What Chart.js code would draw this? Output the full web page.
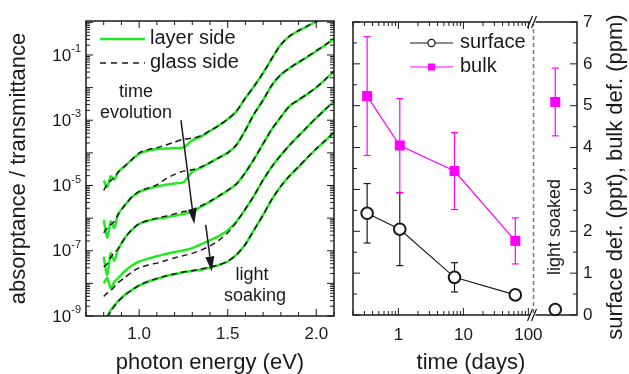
<!DOCTYPE html>
<html>
<head>
<meta charset="utf-8">
<script src="https://cdn.jsdelivr.net/npm/chart.js@4/dist/chart.umd.min.js"></script>
<style>
  body { margin: 0; background: #fff; }
  #wrap { position: relative; width: 629px; height: 374px; }
  canvas { position: absolute; top: 0; }
  #absChart { left: 0; }
  #defChart { left: 340px; }
</style>
</head>
<body>
<div id="wrap">
  <canvas id="absChart" width="340" height="374"></canvas>
  <canvas id="defChart" width="289" height="374"></canvas>
</div>
<script>
// photon energy grid (eV) shared by all spectra
const energy = [0.80, 0.82, 0.84, 0.86, 0.88, 0.92, 0.96, 1.00, 1.05, 1.10, 1.15, 1.20, 1.25, 1.30, 1.35,
  1.40, 1.45, 1.50, 1.55, 1.60, 1.65, 1.70, 1.75, 1.80, 1.85, 1.90, 1.95, 2.00, 2.05, 2.10];

// spectra, given as decades (log10 of absorptance / transmittance)
const layer1 = [-4.85, -5.05, -4.72, -4.82, -4.6, -4.4, -4.2, -4.03, -3.93, -3.88, -3.87, -3.85, -3.83, -3.62, -3.5,
  -3.33, -3.16, -2.97, -2.72, -2.32, -1.95, -1.55, -1.1, -0.68, -0.42, -0.26, -0.12, 0.02, 0.15, null];
const glass1 = [-5.15, -4.95, -4.85, -4.75, -4.6, -4.4, -4.2, -4.0, -3.9, -3.84, -3.76, -3.67, -3.58, -3.55, -3.47,
  -3.32, -3.16, -2.97, -2.72, -2.32, -1.95, -1.55, -1.1, -0.68, -0.42, -0.25, -0.11, 0.03, 0.16, null];
const layer2 = [-6.06, -6.6, -6.1, -6.3, -5.9, -5.6, -5.35, -5.2, -5.1, -5.03, -4.98, -4.94, -4.9, -4.58, -4.45,
  -4.3, -4.15, -4.0, -3.75, -3.3, -2.8, -2.38, -1.92, -1.6, -1.4, -1.23, -1.06, -0.88, -0.7, -0.5];
const glass2 = [-6.45, -6.3, -6.2, -6.1, -5.9, -5.6, -5.35, -5.18, -5.08, -4.98, -4.8, -4.66, -4.56, -4.52, -4.43,
  -4.3, -4.15, -4.0, -3.75, -3.3, -2.8, -2.38, -1.92, -1.6, -1.4, -1.22, -1.05, -0.87, -0.69, -0.49];
const layer3 = [-7.18, -7.75, -7.08, -7.3, -6.98, -6.6, -6.35, -6.18, -6.08, -6.02, -5.98, -5.93, -5.87, -5.8, -5.65,
  -5.5, -5.33, -5.15, -4.95, -4.6, -4.18, -3.72, -3.27, -2.9, -2.56, -2.38, -2.2, -2.0, -1.76, -1.5];
const glass3 = [-7.5, -7.4, -7.2, -7.05, -6.95, -6.6, -6.35, -6.17, -6.07, -6.0, -5.94, -5.87, -5.8, -5.74, -5.62,
  -5.48, -5.32, -5.15, -4.95, -4.6, -4.18, -3.72, -3.27, -2.9, -2.56, -2.37, -2.19, -1.99, -1.75, -1.49];
const layer4 = [-8.0, -7.84, -8.15, -7.95, -7.85, -7.62, -7.45, -7.33, -7.24, -7.17, -7.1, -7.04, -6.99, -6.92, -6.8,
  -6.68, -6.55, -6.38, -6.1, -5.72, -5.3, -4.83, -4.42, -4.07, -3.76, -3.48, -3.2, -2.93, -2.67, -2.42];
const glass4 = [-8.4, -8.3, -8.22, -8.1, -7.98, -7.82, -7.65, -7.52, -7.44, -7.38, -7.3, -7.22, -7.15, -7.08, -6.98,
  -6.85, -6.68, -6.45, -6.12, -5.72, -5.3, -4.83, -4.42, -4.07, -3.76, -3.48, -3.2, -2.93, -2.67, -2.42];
const layer5 = [null, -9.0, -8.82, -8.68, -8.55, -8.35, -8.2, -8.07, -7.95, -7.86, -7.78, -7.72, -7.66, -7.62, -7.58,
  -7.52, -7.44, -7.33, -7.12, -6.8, -6.35, -5.9, -5.42, -5.02, -4.7, -4.43, -4.15, -3.88, -3.63, -3.38];
const glass5 = [null, -9.05, -8.85, -8.7, -8.56, -8.36, -8.2, -8.06, -7.94, -7.85, -7.77, -7.71, -7.65, -7.61, -7.56,
  -7.5, -7.43, -7.32, -7.12, -6.8, -6.35, -5.9, -5.42, -5.02, -4.7, -4.42, -4.14, -3.87, -3.62, -3.37];

const layerSide = [layer1, layer2, layer3, layer4, layer5];
const glassSide = [glass1, glass2, glass3, glass4, glass5];
const energyTicks = [1.0, 1.5, 2.0];
const decadeLabels = [-9, -7, -5, -3, -1];

// defect densities vs time
const days = [0.33, 1.05, 7.3, 63];
const surfaceDef = [2.43, 2.05, 0.9, 0.48];
const surfaceErr = [0.71, 0.87, 0.35, 0.08];
const bulkDef = [5.23, 4.05, 3.44, 1.77];
const bulkErr = [1.42, 1.12, 0.92, 0.55];
const soakedLabel = ["light soaked"];
const soakedSurface = [0.13];
const soakedSurfaceErr = [0];
const soakedBulk = [5.09];
const soakedBulkErr = [0.81];
const timeTicks = [1, 10, 100];

const INK = "#1a1a1a";
const GREEN = "#22ea22";
const MAGENTA = "#ff00ff";
const FONT = "'Liberation Sans', Arial, sans-serif";

Chart.defaults.font.family = FONT;
Chart.defaults.color = INK;

function curvePoints(exps) {
  return energy.map((e, k) => ({ x: e, y: exps[k] === null ? null : Math.pow(10, exps[k]) }));
}

function tickLine(ctx, x1, y1, x2, y2) {
  ctx.beginPath();
  ctx.moveTo(x1, y1);
  ctx.lineTo(x2, y2);
  ctx.stroke();
}

function drawArrow(ctx, x1, y1, x2, y2) {
  const ang = Math.atan2(y2 - y1, x2 - x1);
  const head = 15;
  const half = 4.5;
  const bx = x2 - head * Math.cos(ang);
  const by = y2 - head * Math.sin(ang);
  tickLine(ctx, x1, y1, bx, by);
  ctx.beginPath();
  ctx.moveTo(x2, y2);
  ctx.lineTo(bx + half * Math.sin(ang), by - half * Math.cos(ang));
  ctx.lineTo(bx - half * Math.sin(ang), by + half * Math.cos(ang));
  ctx.closePath();
  ctx.fill();
}

// frame, inward ticks, superscript labels, legend and notes for the spectra
const absDecor = {
  id: "absDecor",
  afterDraw(chart) {
    const { ctx, chartArea: a, scales: { x, y } } = chart;
    ctx.save();
    ctx.strokeStyle = INK;
    ctx.fillStyle = INK;
    ctx.lineWidth = 1.5;
    ctx.strokeRect(a.left, a.top, a.width, a.height);

    ctx.lineWidth = 1;
    for (let k = 7; k <= 21; k++) {
      const px = x.getPixelForValue(k / 10);
      const len = k % 5 === 0 ? 7 : 4;
      tickLine(ctx, px, a.bottom, px, a.bottom - len);
      tickLine(ctx, px, a.top, px, a.top + len);
    }
    for (let d = -9; d <= 0; d++) {
      for (let m = 1; m <= 9; m++) {
        const v = m * Math.pow(10, d);
        if (v > y.max) break;
        const py = y.getPixelForValue(v);
        const len = m === 1 ? 7 : 4;
        tickLine(ctx, a.left, py, a.left + len, py);
        tickLine(ctx, a.right, py, a.right - len, py);
      }
    }

    // 10^n tick labels
    decadeLabels.forEach(d => {
      const py = y.getPixelForValue(Math.pow(10, d));
      ctx.font = "11px " + FONT;
      const exp = String(d);
      const ew = ctx.measureText(exp).width;
      const x0 = a.left - 5 - ew;
      ctx.textBaseline = "middle";
      ctx.textAlign = "left";
      ctx.fillText(exp, x0, py - 6);
      ctx.font = "17px " + FONT;
      ctx.textAlign = "right";
      ctx.fillText("10", x0, py + 1);
    });

    // legend
    ctx.lineWidth = 2.5;
    ctx.strokeStyle = GREEN;
    tickLine(ctx, 100, 39, 145, 39);
    ctx.lineWidth = 1.5;
    ctx.strokeStyle = INK;
    ctx.setLineDash([6, 5]);
    tickLine(ctx, 100, 63, 145, 63);
    ctx.setLineDash([]);
    ctx.font = "20px " + FONT;
    ctx.textAlign = "left";
    ctx.fillText("layer side", 150, 38);
    ctx.fillText("glass side", 150, 62);

    // notes
    ctx.font = "18px " + FONT;
    ctx.textAlign = "center";
    ctx.fillText("time", 136, 92);
    ctx.fillText("evolution", 136, 113);
    ctx.fillText("light", 252, 275);
    ctx.fillText("soaking", 255, 296);

    ctx.lineWidth = 1.5;
    drawArrow(ctx, x.getPixelForValue(1.236), y.getPixelForValue(1.0e-3),
      x.getPixelForValue(1.311), y.getPixelForValue(6.6e-7));
    drawArrow(ctx, x.getPixelForValue(1.376), y.getPixelForValue(6.2e-7),
      x.getPixelForValue(1.41), y.getPixelForValue(2.3e-8));
    ctx.restore();
  }
};

const absDatasets = [];
glassSide.forEach((curve, i) => {
  absDatasets.push({
    label: "glass side " + (i + 1),
    data: curvePoints(curve),
    borderColor: INK,
    borderWidth: 1.5,
    borderDash: [6, 4],
    tension: 0.25,
    order: 0
  });
});
layerSide.forEach((curve, i) => {
  absDatasets.push({
    label: "layer side " + (i + 1),
    data: curvePoints(curve),
    borderColor: GREEN,
    borderWidth: 2.5,
    tension: 0.25,
    order: 1
  });
});

new Chart(document.getElementById("absChart"), {
  type: "line",
  data: { datasets: absDatasets },
  options: {
    responsive: false,
    animation: false,
    events: [],
    layout: { padding: { top: 21, right: 6, left: 0, bottom: 0 } },
    elements: { point: { radius: 0 } },
    plugins: { legend: { display: false }, tooltip: { enabled: false } },
    scales: {
      x: {
        type: "linear",
        min: 0.7,
        max: 2.1,
        afterBuildTicks: s => { s.ticks = energyTicks.map(v => ({ value: v })); },
        ticks: { font: { size: 17 }, padding: 8, maxRotation: 0, autoSkip: false, callback: v => v.toFixed(1) },
        grid: { display: false, drawTicks: false },
        border: { display: false },
        title: { display: true, text: "photon energy (eV)", font: { size: 22, lineHeight: 1 }, padding: 0 },
        afterFit: s => { s.height = 58; }
      },
      y: {
        type: "logarithmic",
        min: 1e-9,
        max: 1.1,
        ticks: { display: false },
        grid: { display: false, drawTicks: false },
        border: { display: false },
        title: { display: true, text: "absorptance / transmittance", font: { size: 22, lineHeight: 1 }, padding: { top: 8, bottom: 0 } },
        afterFit: s => { s.width = 86; }
      }
    }
  },
  plugins: [absDecor]
});

// error bars under the markers, plus frame, break, legend and titles
const errorBars = {
  id: "errorBars",
  beforeDatasetsDraw(chart) {
    const { ctx, scales: { y } } = chart;
    const errs = [surfaceErr, bulkErr, soakedSurfaceErr, soakedBulkErr];
    const vals = [surfaceDef, bulkDef, soakedSurface, soakedBulk];
    const colors = [INK, MAGENTA, INK, MAGENTA];
    ctx.save();
    ctx.lineWidth = 1.2;
    errs.forEach((err, i) => {
      const meta = chart.getDatasetMeta(i);
      ctx.strokeStyle = colors[i];
      meta.data.forEach((pt, j) => {
        if (!err[j]) return;
        const top = y.getPixelForValue(vals[i][j] + err[j]);
        const bot = y.getPixelForValue(vals[i][j] - err[j]);
        tickLine(ctx, pt.x, top, pt.x, bot);
        tickLine(ctx, pt.x - 3.5, top, pt.x + 3.5, top);
        tickLine(ctx, pt.x - 3.5, bot, pt.x + 3.5, bot);
      });
    });
    ctx.restore();
  },
  afterDraw(chart) {
    const { ctx, chartArea: a, scales: { x, y } } = chart;
    ctx.save();
    ctx.strokeStyle = INK;
    ctx.fillStyle = INK;
    ctx.lineWidth = 1.5;
    ctx.strokeRect(a.left, a.top, a.width, a.height);

    // time axis ticks, top and bottom
    ctx.lineWidth = 1;
    [0.1, 1, 10, 100].forEach(dec => {
      for (let m = 1; m <= 9; m++) {
        const v = m * dec;
        if (v < x.min - 1e-9 || v > x.max) continue;
        const px = x.getPixelForValue(v);
        const len = m === 1 ? 7 : 4;
        tickLine(ctx, px, a.bottom, px, a.bottom - len);
        tickLine(ctx, px, a.top, px, a.top + len);
      }
    });
    for (let v = 0; v <= 7; v += 0.5) {
      const py = y.getPixelForValue(v);
      const len = v % 1 === 0 ? 7 : 4;
      tickLine(ctx, a.left, py, a.left + len, py);
      tickLine(ctx, a.right, py, a.right - len, py);
    }

    // axis break
    const bx = x.right;
    ctx.strokeStyle = "#777";
    ctx.lineWidth = 1.5;
    ctx.setLineDash([4, 3]);
    tickLine(ctx, bx, a.top, bx, a.bottom);
    ctx.setLineDash([]);
    [a.top, a.bottom].forEach(py => {
      ctx.fillStyle = "#fff";
      ctx.fillRect(bx - 3, py - 2, 5, 4);
      ctx.strokeStyle = INK;
      ctx.lineWidth = 1.2;
      tickLine(ctx, bx - 6, py + 6, bx - 1, py - 6);
      tickLine(ctx, bx - 2, py + 6, bx + 3, py - 6);
    });

    // legend
    ctx.fillStyle = INK;
    ctx.strokeStyle = INK;
    ctx.lineWidth = 1.2;
    tickLine(ctx, 70, 43, 113, 43);
    ctx.beginPath();
    ctx.arc(91.5, 43, 3.6, 0, Math.PI * 2);
    ctx.fillStyle = "#fff";
    ctx.fill();
    ctx.stroke();
    ctx.strokeStyle = MAGENTA;
    tickLine(ctx, 70, 67, 113, 67);
    ctx.fillStyle = MAGENTA;
    ctx.fillRect(88, 63.5, 7, 7);
    ctx.fillStyle = INK;
    ctx.font = "20px " + FONT;
    ctx.textAlign = "left";
    ctx.textBaseline = "middle";
    ctx.fillText("surface", 120, 42);
    ctx.fillText("bulk", 120, 66);

    // rotated texts
    ctx.save();
    ctx.translate(215, 227);
    ctx.rotate(-Math.PI / 2);
    ctx.font = "18px " + FONT;
    ctx.textAlign = "center";
    ctx.fillText("light soaked", 0, 0);
    ctx.restore();

    ctx.save();
    ctx.translate(276, 177);
    ctx.rotate(-Math.PI / 2);
    ctx.font = "22px " + FONT;
    ctx.textAlign = "center";
    ctx.fillText("surface def. (ppt), bulk def. (ppm)", 0, 0);
    ctx.restore();

    ctx.font = "22px " + FONT;
    ctx.textAlign = "center";
    ctx.fillText("time (days)", 131, 363);
    ctx.restore();
  }
};

new Chart(document.getElementById("defChart"), {
  type: "line",
  data: {
    datasets: [
      {
        label: "surface",
        data: days.map((t, i) => ({ x: t, y: surfaceDef[i] })),
        borderColor: INK,
        borderWidth: 1.2,
        pointStyle: "circle",
        pointRadius: 5.8,
        pointBorderWidth: 2,
        pointBorderColor: INK,
        pointBackgroundColor: "#fff",
        xAxisID: "x"
      },
      {
        label: "bulk",
        data: days.map((t, i) => ({ x: t, y: bulkDef[i] })),
        borderColor: MAGENTA,
        borderWidth: 1.2,
        pointStyle: "rect",
        pointRadius: 7.1,
        pointBorderWidth: 0,
        pointBackgroundColor: MAGENTA,
        xAxisID: "x"
      },
      {
        label: "surface (light soaked)",
        data: soakedLabel.map((c, i) => ({ x: c, y: soakedSurface[i] })),
        showLine: false,
        pointStyle: "circle",
        pointRadius: 5.8,
        pointBorderWidth: 2,
        pointBorderColor: INK,
        pointBackgroundColor: "#fff",
        xAxisID: "xls"
      },
      {
        label: "bulk (light soaked)",
        data: soakedLabel.map((c, i) => ({ x: c, y: soakedBulk[i] })),
        showLine: false,
        pointStyle: "rect",
        pointRadius: 7.1,
        pointBorderWidth: 0,
        pointBackgroundColor: MAGENTA,
        xAxisID: "xls"
      }
    ]
  },
  options: {
    responsive: false,
    animation: false,
    events: [],
    clip: false,
    layout: { padding: { top: 22, left: 13, right: 0, bottom: 0 } },
    plugins: { legend: { display: false }, tooltip: { enabled: false } },
    scales: {
      x: {
        type: "logarithmic",
        position: "bottom",
        stack: "time",
        stackWeight: 180.5,
        min: 0.2,
        max: 120,
        afterBuildTicks: s => { s.ticks = timeTicks.map(v => ({ value: v })); },
        ticks: { font: { size: 17 }, padding: 10, maxRotation: 0, autoSkip: false, callback: v => String(v) },
        grid: { display: false, drawTicks: false },
        border: { display: false },
        afterFit: s => { s.height = 59; }
      },
      xls: {
        type: "category",
        position: "bottom",
        stack: "time",
        stackWeight: 43.5,
        labels: soakedLabel,
        offset: true,
        ticks: { display: false },
        grid: { display: false, drawTicks: false },
        border: { display: false },
        afterFit: s => { s.height = 59; }
      },
      y: {
        position: "right",
        min: 0,
        max: 7,
        ticks: { stepSize: 1, font: { size: 17 }, padding: 6 },
        grid: { display: false, drawTicks: false },
        border: { display: false },
        afterFit: s => { s.width = 52; }
      }
    }
  },
  plugins: [errorBars]
});
</script>
</body>
</html>
